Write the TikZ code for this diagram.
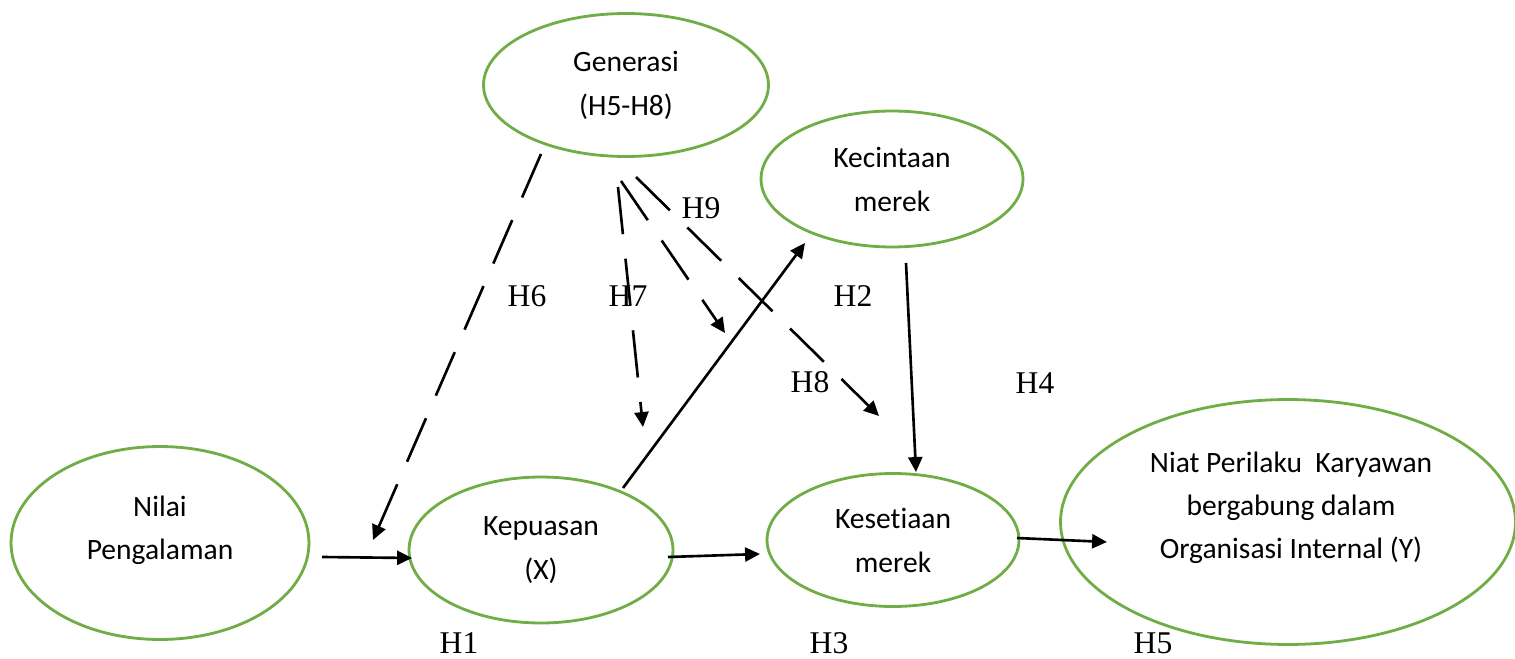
\documentclass[tikz,border=0pt]{standalone}
\usepackage{fontspec}
\setmainfont{Carlito}[Ligatures={NoCommon}]
\newfontfamily\labfont{Liberation Serif}
\usetikzlibrary{shapes.geometric,arrows.meta}
\definecolor{egreen}{RGB}{112,173,71}
\begin{document}
\begin{tikzpicture}[x=0.02cm,y=-0.02cm,
  ell/.style={ellipse, draw=egreen, line width=1.6pt, inner sep=0pt, align=center,
    font=\fontsize{16.8}{25}\selectfont},
  txt/.style={align=center, inner sep=0pt, font=\fontsize{16.8}{24.5}\selectfont},
  hlab/.style={inner sep=0pt, font=\labfont\fontsize{18}{18}\selectfont},
  conn/.style={line width=1.5pt, -{Triangle[length=8.5pt,width=8pt]}},
  dsh/.style={conn, dash pattern=on 27pt off 14pt}
]
\useasboundingbox (0,0) rectangle (1515,659);

% ellipses
\node[ell, minimum width=5.7cm, minimum height=2.86cm] (gen) at (626,85) {Generasi\\(H5-H8)};
\node[ell, minimum width=5.24cm, minimum height=2.72cm] (kec) at (892,179) {Kecintaan\\merek};
\node[ell, minimum width=5.96cm, minimum height=3.86cm] (nil) at (160,543) {};
\node[txt] (niltxt) at (160,530) {Nilai\\Pengalaman};
\node[ell, minimum width=5.28cm, minimum height=2.92cm] (kep) at (541,550) {Kepuasan\\(X)};
\node[ell, minimum width=5.04cm, minimum height=2.66cm] (kes) at (893,540) {Kesetiaan\\merek};
\node[ell, minimum width=9.1cm, minimum height=4.9cm] (niat) at (1288,522) {};
\node[txt] (niattxt) at (1291,508) {Niat Perilaku\ \ Karyawan\\bergabung dalam\\Organisasi Internal (Y)};

% connector end points
\coordinate (g6) at (541,154); \coordinate (e6) at (373,540);
\coordinate (g7) at (618,187); \coordinate (e7) at (643,427);
\coordinate (g9) at (621,181); \coordinate (e9) at (725,333);
\coordinate (g8) at (636,177); \coordinate (e8) at (879,416);
\coordinate (kepA) at (623,488); \coordinate (kecA) at (805,243);
\coordinate (kecB) at (906,263); \coordinate (kesA) at (916,472);
\coordinate (nilA) at (322,557); \coordinate (kepB) at (412,558);
\coordinate (kepC) at (668,557); \coordinate (kesB) at (760,554);
\coordinate (kesC) at (1017,538); \coordinate (niatA) at (1107,542);

% dashed moderating arrows
\draw[dsh] (g6) -- (e6);
\draw[dsh] (g7) -- (e7);
\draw[dsh] (g9) -- (e9);
\draw[dsh] (g8) -- (e8);

% solid arrows
\draw[conn] (kepA) -- (kecA);
\draw[conn] (kecB) -- (kesA);
\draw[conn] (nilA) -- (kepB);
\draw[conn] (kepC) -- (kesB);
\draw[conn] (kesC) -- (niatA);

% hypothesis labels
\node[hlab] (h9) at (701,208) {H9};
\node[hlab] (h6) at (527,296) {H6};
\node[hlab] (h7) at (628,296) {H7};
\node[hlab] (h2) at (853,296) {H2};
\node[hlab] (h8) at (810,382) {H8};
\node[hlab] (h4) at (1035,383) {H4};
\node[hlab] (h1) at (459,643) {H1};
\node[hlab] (h3) at (829,643) {H3};
\node[hlab] (h5) at (1153,643) {H5};
\end{tikzpicture}
\end{document}
